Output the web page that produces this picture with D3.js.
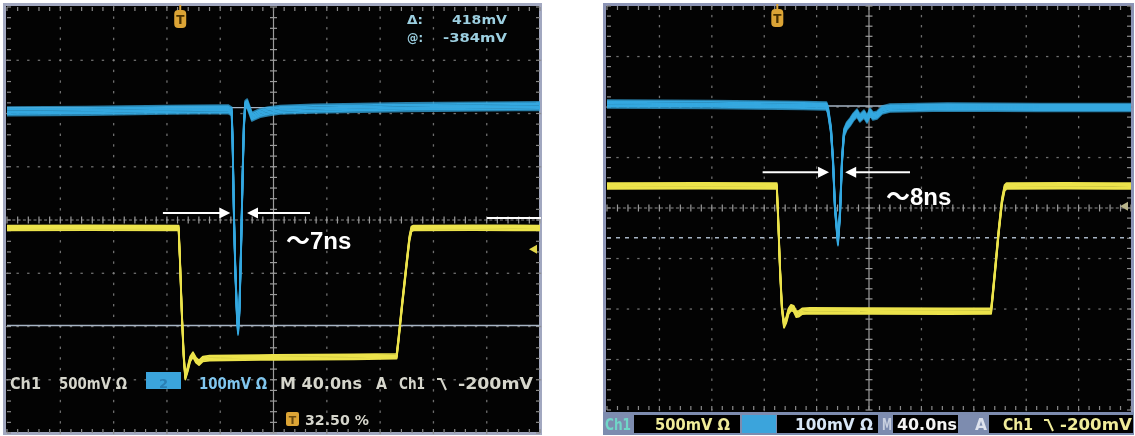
<!DOCTYPE html>
<html>
<head>
<meta charset="utf-8">
<script src="https://cdn.jsdelivr.net/npm/d3@7"></script>
<style>
  html, body { margin: 0; padding: 0; background: #ffffff; }
  svg { display: block; }
</style>
</head>
<body>
<svg id="scope" width="1135" height="436"></svg>
<script>
// ---------- scope settings ----------
const nsPerDiv = 40;                 // timebase
const voltsPerDiv = [500, 100];      // mV/div for Ch1, Ch2
const triggerLevelMv = -200;         // Ch1 falling-edge trigger level
const triggerPct = 32.5;             // trigger position in record

// ---------- waveform samples: [time ns, amplitude mV] ----------
const leftCh1 = [
  [0, 0], [60, 2], [128.8, 0], [129.8, -300], [131.2, -800], [132.6, -1200],
  [133.8, -1400], [135.5, -1330], [137.5, -1230], [139.6, -1190], [141.8, -1240],
  [144.1, -1265], [147, -1230], [152, -1222], [200, -1215], [260, -1210],
  [292.4, -1205], [293.8, -1050], [296.5, -720], [299.5, -380], [302, -100],
  [303.5, -10], [305, 0], [350, 2], [400, 0]
];
const leftCh2 = [
  [0, -6], [60, -5], [120, -3], [166, -2], [168.6, -6], [169.3, -60],
  [170.3, -200], [171.3, -300], [172.6, -390], [173.4, -418], [174.4, -380],
  [175.6, -270], [176.8, -130], [177.8, -30], [178.8, 6], [180.2, 9],
  [181.8, -2], [183.8, -16], [186.5, -13], [190, -9], [196, -6], [205, -3],
  [230, -1], [300, 2], [400, 4]
];
const rightCh1 = [
  [0, 0], [70, 2], [129.6, 0], [130.6, -300], [132, -800], [133.5, -1200],
  [135.1, -1376], [136.8, -1330], [138.6, -1240], [140.5, -1205], [142.5, -1215],
  [144.5, -1270], [146.5, -1265], [149, -1240], [155, -1235], [200, -1238],
  [260, -1240], [293.2, -1238], [294.3, -1100], [296.5, -800], [299, -450],
  [301.5, -150], [303.5, -20], [305, 0], [350, 2], [400, 0]
];
const rightCh2 = [
  [0, 4], [80, 3], [150, 1], [167.5, 0], [168.7, -8], [171, -48], [172.5, -107],
  [174, -200], [176.3, -269], [177.9, -212], [179.4, -107], [180.9, -53],
  [183, -40], [185.5, -32], [188, -22], [190.8, -14], [193, -24], [196.2, -16],
  [198.5, -26], [200.8, -12], [203, -20], [206.1, -18], [210, -8], [216, -4],
  [260, -2], [330, -3], [400, -3]
];

// horizontal cursor levels on Ch2, mV
const leftCursors = [1, -408];
const rightCursors = [0, -261];

// ---------- readout texts ----------
const cursorReadout = [["Δ:", "418mV"], ["@:", "-384mV"]];
const ch1Text = ["Ch1", "500mV Ω"];
const ch2Text = ["2", "100mV Ω"];
const timebaseText = ["M", "40.0ns"];
const triggerText = ["A", "Ch1", "-200mV"];
const positionText = "32.50 %";
const widthLabels = ["～7ns", "～8ns"];

// ---------- colours ----------
const ch1Color = "#ece34c";
const ch2Color = "#34a8e0";

const svg = d3.select("#scope");
const defs = svg.append("defs");
defs.append("filter").attr("id", "soft")
  .attr("x", "-5%").attr("y", "-5%").attr("width", "110%").attr("height", "110%")
  .append("feGaussianBlur").attr("stdDeviation", 0.55);
defs.append("filter").attr("id", "softText")
  .append("feGaussianBlur").attr("stdDeviation", 0.45);

const panels = [
  {
    key: "L",
    frame: { x: 4.5, y: 4.5, w: 536, h: 429, color: "#a2a8c0" },
    grid: { x0: 7, x1: 540, y0: 7, y1: 433 },
    pos: [-0.15, 2.10],
    ch1: leftCh1, ch2: leftCh2,
    cursors: leftCursors, cursorDash: [null, null],
    trigArrowColor: "#e2d64a",
    arrowDiv: 0.13, arrowNs: [117, 167.6, 180.1, 227.4],
    label: widthLabels[0], labelPos: [286, 249],
    ch1Band: [-2.4, -1.2, 0, 1.2, 2.4],
    ch2Band: [-4.2, -2.8, -1.4, 0, 1.4, 2.8, 4.2]
  },
  {
    key: "R",
    frame: { x: 604.5, y: 4.5, w: 528, h: 429, color: "#8d95b6" },
    grid: { x0: 607, x1: 1131, y0: 6, y1: 410 },
    pos: [0.436, 2.02],
    ch1: rightCh1, ch2: rightCh2,
    cursors: rightCursors, cursorDash: [null, "4,5"],
    trigArrowColor: "#b8b48a",
    arrowDiv: 0.71, arrowNs: [118.8, 169.5, 181.8, 231.3],
    label: widthLabels[1], labelPos: [886, 205],
    ch1Band: [-2.8, -1.4, 0, 1.4, 2.8],
    ch2Band: [-3.8, -2.5, -1.2, 0, 1.2, 2.5, 3.8]
  }
];

panels.forEach(p => {
  const g = p.grid;
  const x = d3.scaleLinear().domain([0, 10 * nsPerDiv]).range([g.x0, g.x1]);
  const yDiv = d3.scaleLinear().domain([-4, 4]).range([g.y1, g.y0]);
  const yCh = p.pos.map((pos, i) =>
    d3.scaleLinear()
      .domain([(-4 - pos) * voltsPerDiv[i], (4 - pos) * voltsPerDiv[i]])
      .range([g.y1, g.y0]));
  const minorX = d3.range(0, 10 * nsPerDiv + 0.01, nsPerDiv / 5);
  const minorY = d3.range(-4, 4.001, 0.2);

  // black screen with border
  svg.append("rect")
    .attr("x", p.frame.x).attr("y", p.frame.y)
    .attr("width", p.frame.w).attr("height", p.frame.h)
    .attr("fill", "#030303")
    .attr("stroke", p.frame.color).attr("stroke-width", 3);

  const screen = svg.append("g").attr("filter", "url(#soft)");
  const grat = screen.append("g").attr("fill", "#8a8a8a");

  // dotted major lines
  d3.range(1, 10).filter(k => k !== 5).forEach(k => {
    const xx = x(k * nsPerDiv);
    grat.selectAll(null).data(minorY).join("rect")
      .attr("x", xx - 0.6).attr("y", d => yDiv(d) - 1.2)
      .attr("width", 1.3).attr("height", 2.4).attr("opacity", 0.8);
  });
  d3.range(-3, 4).filter(k => k !== 0).forEach(k => {
    const yy = yDiv(k);
    grat.selectAll(null).data(minorX).join("rect")
      .attr("x", d => x(d) - 1.2).attr("y", yy - 0.6)
      .attr("width", 2.4).attr("height", 1.3).attr("opacity", 0.8);
  });

  // centre cross with ticks
  const cx = x(5 * nsPerDiv), cy = yDiv(0);
  screen.append("line")
    .attr("x1", cx).attr("x2", cx).attr("y1", g.y0).attr("y2", g.y1)
    .attr("stroke", "#9c9c9c").attr("stroke-width", 1.2);
  screen.append("line")
    .attr("x1", g.x0).attr("x2", g.x1).attr("y1", cy).attr("y2", cy)
    .attr("stroke", "#8c8c8c").attr("stroke-width", 1.2)
    .attr("stroke-dasharray", "3,2.3");
  screen.append("g").selectAll("line").data(minorY).join("line")
    .attr("x1", cx - 3.5).attr("x2", cx + 3.5)
    .attr("y1", d => yDiv(d)).attr("y2", d => yDiv(d))
    .attr("stroke", "#9c9c9c").attr("stroke-width", 1.2);
  screen.append("g").selectAll("line").data(minorX).join("line")
    .attr("x1", d => x(d)).attr("x2", d => x(d))
    .attr("y1", cy - 3.5).attr("y2", cy + 3.5)
    .attr("stroke", "#9c9c9c").attr("stroke-width", 1.2);

  // edge ticks
  const edge = screen.append("g").attr("stroke", "#8a8a8a").attr("stroke-width", 1.2);
  edge.selectAll(null).data(minorX).join("line")
    .attr("x1", d => x(d)).attr("x2", d => x(d)).attr("y1", g.y0).attr("y2", g.y0 + 4);
  edge.selectAll(null).data(minorX).join("line")
    .attr("x1", d => x(d)).attr("x2", d => x(d)).attr("y1", g.y1).attr("y2", g.y1 - 4);
  edge.selectAll(null).data(minorY).join("line")
    .attr("x1", g.x0).attr("x2", g.x0 + 4).attr("y1", d => yDiv(d)).attr("y2", d => yDiv(d));
  edge.selectAll(null).data(minorY).join("line")
    .attr("x1", g.x1).attr("x2", g.x1 - 4).attr("y1", d => yDiv(d)).attr("y2", d => yDiv(d));

  // horizontal cursors on Ch2
  p.cursors.forEach((mv, i) => {
    screen.append("line")
      .attr("x1", g.x0).attr("x2", g.x1)
      .attr("y1", yCh[1](mv)).attr("y2", yCh[1](mv))
      .attr("stroke", "#a6b4c4").attr("stroke-width", p.cursorDash[i] ? 1.6 : 1.4)
      .attr("stroke-dasharray", p.cursorDash[i]);
  });

  // traces: a vertical noise band drawn as stacked thin strokes
  const drawTrace = (data, yScale, color, band) => {
    const line = d3.line().x(d => x(d[0])).y(d => yScale(d[1]));
    const tg = screen.append("g");
    band.forEach(dy => {
      tg.append("path")
        .attr("d", line(data))
        .attr("transform", `translate(0,${dy})`)
        .attr("fill", "none")
        .attr("stroke", color)
        .attr("stroke-width", 1.8)
        .attr("stroke-linejoin", "round")
        .attr("opacity", Math.abs(dy) > 3 ? 0.75 : 1);
    });
  };
  drawTrace(p.ch1, yCh[0], ch1Color, p.ch1Band);
  drawTrace(p.ch2, yCh[1], ch2Color, p.ch2Band);

  // trigger level marker on right edge
  const ty = yCh[0](triggerLevelMv);
  screen.append("path")
    .attr("d", `M${g.x1 - 11},${ty} L${g.x1 - 3},${ty - 4.5} L${g.x1 - 3},${ty + 4.5} Z`)
    .attr("fill", p.trigArrowColor);

  // trigger position marker at top
  const tx = x(triggerPct / 100 * 10 * nsPerDiv);
  screen.append("line")
    .attr("x1", tx).attr("x2", tx).attr("y1", g.y0 - 2).attr("y2", g.y0 + 4)
    .attr("stroke", "#e0a838").attr("stroke-width", 2);
  screen.append("rect")
    .attr("x", tx - 6).attr("y", g.y0 + 3).attr("width", 12).attr("height", 18)
    .attr("rx", 4).attr("fill", "#dca436");
  screen.append("text")
    .attr("x", tx).attr("y", g.y0 + 17).attr("text-anchor", "middle")
    .attr("font-family", "DejaVu Sans").attr("font-weight", "bold")
    .attr("font-size", 12).attr("fill", "#4a3000").text("T");

  // pulse-width annotation
  const ay = yDiv(p.arrowDiv);
  const [a0, a1, b1, b0] = p.arrowNs.map(x);
  const ann = svg.append("g").attr("fill", "#ffffff").attr("stroke", "#ffffff");
  ann.append("line").attr("x1", a0).attr("x2", a1 - 8).attr("y1", ay).attr("y2", ay).attr("stroke-width", 2);
  ann.append("path").attr("d", `M${a1},${ay} L${a1 - 11},${ay - 5.5} L${a1 - 11},${ay + 5.5} Z`).attr("stroke", "none");
  ann.append("line").attr("x1", b0).attr("x2", b1 + 8).attr("y1", ay).attr("y2", ay).attr("stroke-width", 2);
  ann.append("path").attr("d", `M${b1},${ay} L${b1 + 11},${ay - 5.5} L${b1 + 11},${ay + 5.5} Z`).attr("stroke", "none");
  svg.append("text")
    .attr("x", p.labelPos[0]).attr("y", p.labelPos[1])
    .attr("font-family", "Liberation Sans, 'Noto Sans CJK SC', sans-serif")
    .attr("font-weight", "bold").attr("font-size", 24)
    .attr("fill", "#ffffff").text(p.label);
});

// ---------- left screen readouts ----------
const ro = svg.append("g")
  .attr("font-family", "DejaVu Sans")
  .attr("font-weight", "bold")
  .attr("filter", "url(#softText)");

const txt = (sel, s, xx, yy, len, fill, size) =>
  sel.append("text").attr("x", xx).attr("y", yy)
    .attr("font-size", size || 15)
    .attr("fill", fill)
    .attr("textLength", len).attr("lengthAdjust", "spacingAndGlyphs")
    .text(s);

const edgeGlyph = (sel, xx, yy, color) =>
  sel.append("path")
    .attr("d", `M${xx},${yy - 10} h4 l5,11`)
    .attr("fill", "none").attr("stroke", color).attr("stroke-width", 2);

txt(ro, cursorReadout[0][0], 407, 24, 16, "#9ccfe0", 13);
txt(ro, cursorReadout[0][1], 452, 24, 55, "#9ccfe0", 13);
txt(ro, cursorReadout[1][0], 407, 42, 16, "#9ccfe0", 13);
txt(ro, cursorReadout[1][1], 443, 42, 64, "#9ccfe0", 13);

const lrow = 389;
txt(ro, ch1Text[0], 10, lrow, 31, "#d6d6cc");
txt(ro, ch1Text[1], 59, lrow, 68, "#d6d6cc");
ro.append("rect").attr("x", 146).attr("y", 372).attr("width", 35).attr("height", 17).attr("fill", "#3aa4dc");
ro.append("text").attr("x", 163.5).attr("y", lrow - 1).attr("text-anchor", "middle")
  .attr("font-size", 13).attr("fill", "#2a7fb4").text(ch2Text[0]);
txt(ro, ch2Text[1], 199, lrow, 68, "#80c6ee");
txt(ro, timebaseText.join(" "), 280, lrow, 82, "#d6d6cc");
txt(ro, triggerText[0], 376, lrow, 11, "#d6d6cc");
txt(ro, triggerText[1], 399, lrow, 26, "#d6d6cc");
edgeGlyph(ro, 437, lrow, "#d6d6cc");
txt(ro, triggerText[2], 458, lrow, 75, "#d6d6cc");

ro.append("rect").attr("x", 286).attr("y", 412).attr("width", 13).attr("height", 14).attr("rx", 2).attr("fill", "#dca436");
ro.append("text").attr("x", 292.5).attr("y", 424).attr("text-anchor", "middle")
  .attr("font-size", 11).attr("fill", "#6a4a10").text("T");
txt(ro, positionText, 305, 425, 64, "#d6d6cc", 14);

// ---------- right status bar ----------
const bar = svg.append("g")
  .attr("font-family", "DejaVu Sans")
  .attr("font-weight", "bold")
  .attr("filter", "url(#softText)");
bar.append("rect").attr("x", 603).attr("y", 412).attr("width", 531).attr("height", 23).attr("fill", "#7d8caf");
[[634, 106], [777, 101], [893, 65], [989, 144]].forEach(([bx, bw]) =>
  bar.append("rect").attr("x", bx).attr("y", 415).attr("width", bw).attr("height", 18).attr("fill", "#050505"));
bar.append("rect").attr("x", 742).attr("y", 415).attr("width", 34).attr("height", 18).attr("fill", "#3aa4dc");
const brow = 430;
txt(bar, ch1Text[0], 605, brow, 26, "#6fd6c8");
txt(bar, ch1Text[1], 655, brow, 75, "#f0ec9a");
txt(bar, ch2Text[1], 795, brow, 78, "#d8e6f6");
txt(bar, timebaseText[0], 882, brow, 10, "#c8d0e0");
txt(bar, timebaseText[1], 897, brow, 60, "#f4f4f4");
txt(bar, triggerText[0], 975, brow, 12, "#dde2ee");
txt(bar, triggerText[1], 1003, brow, 30, "#f0ec9a");
edgeGlyph(bar, 1044, brow, "#f0ec9a");
txt(bar, triggerText[2], 1060, brow, 72, "#f0ec9a");

// stray marker line beside the left screen
svg.append("line").attr("x1", 487).attr("x2", 541).attr("y1", 218).attr("y2", 218)
  .attr("stroke", "#ffffff").attr("stroke-width", 2);
</script>
</body>
</html>
